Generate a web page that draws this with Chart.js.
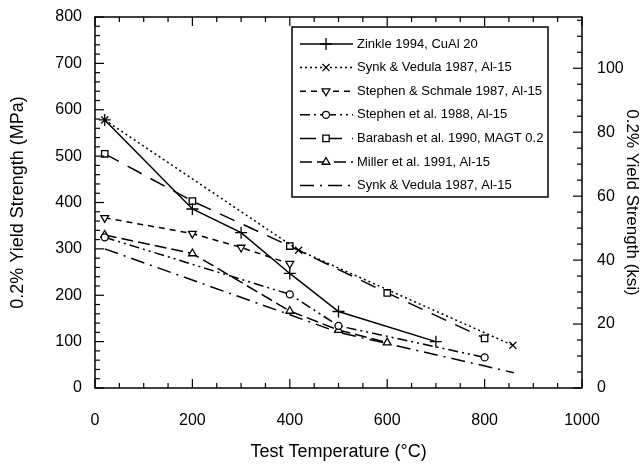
<!DOCTYPE html>
<html>
<head>
<meta charset="utf-8">
<script src="https://cdn.jsdelivr.net/npm/chart.js@4.4.0/dist/chart.umd.min.js"></script>
<style>
html, body { margin: 0; padding: 0; background: #fff; }
#caja { width: 642px; height: 464px; }
</style>
</head>
<body>
<div id="caja"><canvas id="grafico"></canvas></div>
<script>
// Temperaturas (°C) y límite elástico (MPa) de cada serie
const zinkleT = [20, 200, 300, 400, 500, 700];
const zinkleY = [578, 386, 335, 247, 165, 100];

const synk1T = [20, 418, 858];
const synk1Y = [578, 297, 92];

const schmaleT = [20, 200, 300, 400];
const schmaleY = [367, 333, 303, 268];

const stephenT = [20, 400, 500, 800];
const stephenY = [325, 202, 134, 66];

const barabashT = [20, 200, 400, 600, 800];
const barabashY = [505, 403, 306, 205, 107];

const millerT = [20, 200, 400, 500, 600];
const millerY = [330, 290, 166, 125, 98];

const synk2T = [20, 400, 500, 860];
const synk2Y = [300, 158, 120, 33];

// Marcas de los ejes
const ticksX = [0, 200, 400, 600, 800, 1000];
const ticksMPa = [0, 100, 200, 300, 400, 500, 600, 700, 800];
const ticksKsi = [0, 20, 40, 60, 80, 100];

const MPA_POR_KSI = 6.894757;

function puntos(t, y) {
    return t.map((v, i) => ({ x: v, y: y[i] }));
}

// tamaño fijo de cada eje, sin relleno extra para las etiquetas
function fijar(ancho, alto) {
    return s => {
        if (ancho !== null) s.width = ancho;
        if (alto !== null) s.height = alto;
        s.paddingTop = 0; s.paddingBottom = 0;
        s.paddingLeft = 0; s.paddingRight = 0;
    };
}

Chart.defaults.font.family = "'Liberation Sans', Arial, sans-serif";
Chart.defaults.color = '#000';

// Marcas hacia dentro y marco
const marcas = {
    id: 'marcas',
    afterDraw(chart) {
        const { ctx, chartArea: a, scales } = chart;
        ctx.save();
        ctx.strokeStyle = '#000';
        ctx.lineWidth = 1.2;
        const raya = (x1, y1, x2, y2) => {
            ctx.beginPath(); ctx.moveTo(x1, y1); ctx.lineTo(x2, y2); ctx.stroke();
        };
        for (let v = 0; v <= 1000; v += 50) {
            const px = scales.x.getPixelForValue(v);
            const l = v % 200 === 0 ? 9 : 5;
            raya(px, a.bottom, px, a.bottom - l);
            raya(px, a.top, px, a.top + l);
        }
        for (let v = 0; v <= 800; v += 20) {
            const py = scales.y.getPixelForValue(v);
            const l = v % 100 === 0 ? 9 : 5;
            raya(a.left, py, a.left + l, py);
        }
        for (let v = 0; v <= 115; v += 5) {
            const py = scales.y2.getPixelForValue(v);
            const l = v % 20 === 0 ? 9 : 5;
            raya(a.right, py, a.right - l, py);
        }
        ctx.lineWidth = 1.5;
        ctx.strokeRect(a.left, a.top, a.width, a.height);
        ctx.restore();
    }
};

// Leyenda dentro del gráfico
const leyenda = {
    id: 'leyenda',
    afterDraw(chart) {
        const { ctx, chartArea: a } = chart;
        const x0 = a.left + 197, y0 = a.top + 10, w = 256, h = 170;
        ctx.save();
        ctx.fillStyle = '#fff';
        ctx.fillRect(x0, y0, w, h);
        ctx.strokeStyle = '#000';
        ctx.lineWidth = 1.5;
        ctx.strokeRect(x0, y0, w, h);
        ctx.font = "13px 'Liberation Sans', Arial, sans-serif";
        ctx.textBaseline = 'middle';
        chart.data.datasets.forEach((ds, i) => {
            const y = y0 + 17 + i * 23.6;
            ctx.strokeStyle = '#000';
            ctx.lineWidth = ds.borderWidth;
            ctx.setLineDash(ds.borderDash || []);
            ctx.beginPath(); ctx.moveTo(x0 + 8, y); ctx.lineTo(x0 + 61, y); ctx.stroke();
            ctx.setLineDash([]);
            if (ds.pointRadius > 0) {
                ctx.fillStyle = '#fff';
                ctx.lineWidth = 1.3;
                Chart.helpers.drawPoint(ctx, {
                    pointStyle: ds.pointStyle,
                    rotation: ds.pointRotation || 0,
                    radius: ds.pointRadius,
                    borderWidth: 1.3
                }, x0 + 34, y);
            }
            ctx.fillStyle = '#000';
            ctx.fillText(ds.label, x0 + 65, y);
        });
        ctx.restore();
    }
};

function serie(label, t, y, dash, estilo, radio, giro) {
    return {
        label: label,
        data: puntos(t, y),
        borderColor: '#000',
        backgroundColor: '#fff',
        borderWidth: 1.5,
        borderDash: dash,
        pointStyle: estilo,
        pointRadius: radio,
        pointRotation: giro || 0,
        pointBorderWidth: 1.3,
        pointBackgroundColor: '#fff',
        pointBorderColor: '#000',
        tension: 0,
        yAxisID: 'y'
    };
}

new Chart(document.getElementById('grafico'), {
    type: 'line',
    data: {
        datasets: [
            serie('Zinkle 1994, CuAl 20', zinkleT, zinkleY, [], 'cross', 6),
            serie('Synk & Vedula 1987, Al-15', synk1T, synk1Y, [2, 3], 'crossRot', 5),
            serie('Stephen & Schmale 1987, Al-15', schmaleT, schmaleY, [6, 5], 'triangle', 4.5, 180),
            serie('Stephen et al. 1988, Al-15', stephenT, stephenY, [10, 4, 2, 4, 2, 4], 'circle', 3.5),
            serie('Barabash et al. 1990, MAGT 0.2', barabashT, barabashY, [16, 10], 'rect', 4.5),
            serie('Miller et al. 1991, Al-15', millerT, millerY, [12, 5], 'triangle', 4.5),
            serie('Synk & Vedula 1987, Al-15', synk2T, synk2Y, [14, 6, 2, 6], 'circle', 0)
        ]
    },
    options: {
        responsive: true,
        maintainAspectRatio: false,
        animation: false,
        layout: { padding: 0 },
        plugins: {
            legend: { display: false },
            tooltip: { enabled: false }
        },
        scales: {
            x: {
                type: 'linear',
                position: 'bottom',
                min: 0,
                max: 1000,
                afterBuildTicks: s => { s.ticks = ticksX.map(v => ({ value: v })); },
                afterFit: fijar(null, 76),
                grid: { display: false, drawTicks: false },
                border: { display: false },
                ticks: { font: { size: 16 }, padding: 23, maxRotation: 0, callback: v => String(v) },
                title: {
                    display: true,
                    text: 'Test Temperature (°C)',
                    font: { size: 18 },
                    padding: { top: 0, bottom: 1 }
                }
            },
            x2: {
                type: 'linear',
                position: 'top',
                min: 0,
                max: 1000,
                afterFit: fijar(null, 17),
                grid: { display: false, drawTicks: false },
                border: { display: false },
                ticks: { display: false }
            },
            y: {
                type: 'linear',
                position: 'left',
                min: 0,
                max: 800,
                afterBuildTicks: s => { s.ticks = ticksMPa.map(v => ({ value: v })); },
                afterFit: fijar(95, null),
                grid: { display: false, drawTicks: false },
                border: { display: false },
                ticks: { font: { size: 16 }, padding: 13, callback: v => String(v) },
                title: {
                    display: true,
                    text: '0.2% Yield Strength (MPa)',
                    font: { size: 18 },
                    padding: { top: 7, bottom: 0 }
                }
            },
            y2: {
                type: 'linear',
                position: 'right',
                min: 0,
                max: 800 / MPA_POR_KSI,
                afterBuildTicks: s => { s.ticks = ticksKsi.map(v => ({ value: v })); },
                afterFit: fijar(60, null),
                grid: { display: false, drawTicks: false },
                border: { display: false },
                ticks: { font: { size: 16 }, padding: 15, callback: v => String(v) },
                title: {
                    display: true,
                    text: '0.2% Yield Strength (ksi)',
                    font: { size: 17 },
                    padding: { top: 0, bottom: 1 }
                }
            }
        }
    },
    plugins: [marcas, leyenda]
});
</script>
</body>
</html>
